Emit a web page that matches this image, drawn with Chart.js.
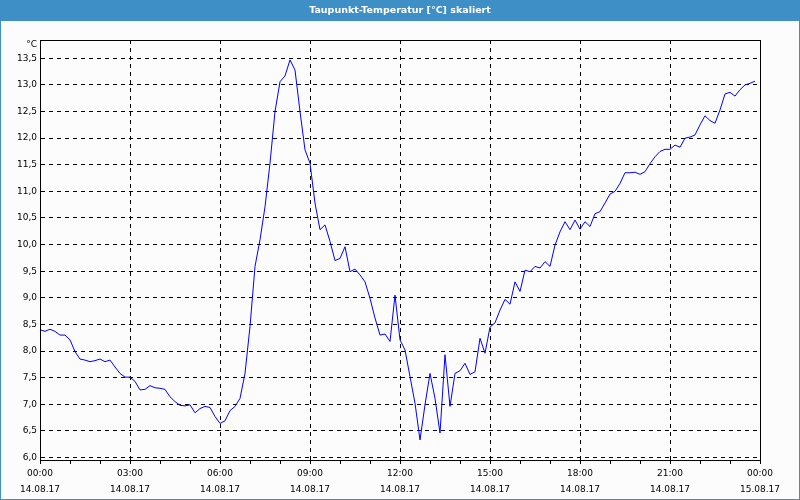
<!DOCTYPE html>
<html><head><meta charset="utf-8">
<script src="https://cdn.jsdelivr.net/npm/chart.js@4/dist/chart.umd.min.js"></script>
<style>html,body{margin:0;padding:0;background:#fff;}canvas{display:block;}</style>
</head><body>
<canvas id="c" width="800" height="500"></canvas>
<script>
const chartTitle = 'Taupunkt-Temperatur [°C] skaliert';
const unitLabel = '°C';
const stepMinutes = 10; // sampling interval of the series (00:00 … 23:50)

const dewPoint = [
  // 00:00 – 07:50
  8.40, 8.37, 8.41, 8.37, 8.30, 8.30, 8.21, 7.99, 7.85, 7.83, 7.80, 7.82,
  7.85, 7.80, 7.83, 7.70, 7.58, 7.51, 7.51, 7.43, 7.27, 7.28, 7.35, 7.31,
  7.30, 7.28, 7.14, 7.05, 6.98, 6.97, 6.99, 6.84, 6.92, 6.96, 6.94, 6.77,
  6.64, 6.69, 6.88, 6.96, 7.11, 7.58, 8.46, 9.59, 10.09, 10.71, 11.53, 12.50,
  // 08:00 – 15:50
  13.06, 13.17, 13.47, 13.28, 12.50, 11.78, 11.53, 10.78, 10.28, 10.37, 10.06, 9.70,
  9.74, 9.96, 9.49, 9.54, 9.43, 9.30, 8.99, 8.62, 8.30, 8.32, 8.18, 9.05,
  8.21, 8.02, 7.52, 7.02, 6.33, 6.99, 7.58, 7.11, 6.46, 7.93, 6.96, 7.58,
  7.63, 7.77, 7.56, 7.61, 8.24, 7.96, 8.45, 8.53, 8.77, 8.97, 8.88, 9.30,
  // 16:00 – 23:50
  9.12, 9.52, 9.49, 9.59, 9.56, 9.68, 9.59, 9.99, 10.24, 10.43, 10.28, 10.46,
  10.29, 10.43, 10.34, 10.58, 10.62, 10.78, 10.95, 11.00, 11.15, 11.35, 11.35, 11.36,
  11.32, 11.37, 11.52, 11.65, 11.75, 11.79, 11.79, 11.87, 11.83, 12.00, 12.02, 12.06,
  12.25, 12.42, 12.33, 12.28, 12.53, 12.83, 12.86, 12.79, 12.91, 13.00, 13.03, 13.07
];

const xTickTimes = ['00:00','03:00','06:00','09:00','12:00','15:00','18:00','21:00','00:00'];
const xTickDates = ['14.08.17','14.08.17','14.08.17','14.08.17','14.08.17','14.08.17','14.08.17','14.08.17','15.08.17'];
const yTicks = [6.0, 6.5, 7.0, 7.5, 8.0, 8.5, 9.0, 9.5, 10.0, 10.5, 11.0, 11.5, 12.0, 12.5, 13.0, 13.5];
const yMin = 5.953, yMax = 13.844;
const xMinMinute = 0, xMaxMinute = 1440, labelEveryMinutes = 180, minorEveryMinutes = 60;

const points = dewPoint.map((v, i) => ({ x: i * stepMinutes, y: v }));

const FONT = '"DejaVu Sans", Tahoma, sans-serif';
const BLUE = '#3d8fc6';

const framePlugin = {
  id: 'frame',
  beforeDraw(chart) {
    const { ctx, width, height } = chart;
    ctx.save();
    ctx.fillStyle = '#fbfcfb';
    ctx.fillRect(0, 0, width, height);
    ctx.fillStyle = BLUE;
    ctx.fillRect(0, 0, width, 21);
    ctx.strokeStyle = BLUE;
    ctx.lineWidth = 1;
    ctx.strokeRect(0.5, 0.5, width - 1, height - 1);
    ctx.fillStyle = '#ffffff';
    ctx.font = 'bold 9.5px ' + FONT;
    ctx.textAlign = 'center';
    ctx.textBaseline = 'middle';
    ctx.fillText(chartTitle, width / 2, 11);
    ctx.restore();
  },
  afterDraw(chart) {
    const { ctx, chartArea: a } = chart;
    ctx.save();
    ctx.strokeStyle = '#000';
    ctx.lineWidth = 1;
    ctx.strokeRect(Math.round(a.left) + 0.5, Math.round(a.top) + 0.5,
                   Math.round(a.right - a.left), Math.round(a.bottom - a.top));
    ctx.fillStyle = '#000';
    ctx.font = '9px ' + FONT;
    ctx.textAlign = 'right';
    ctx.textBaseline = 'middle';
    ctx.fillText(unitLabel, a.left - 3, a.top + 5);
    ctx.restore();
  }
};

new Chart(document.getElementById('c'), {
  type: 'line',
  data: {
    datasets: [{
      data: points,
      borderColor: '#0000ff',
      borderWidth: 1,
      pointRadius: 0,
      tension: 0,
      fill: false
    }]
  },
  options: {
    responsive: false,
    animation: false,
    events: [],
    layout: { padding: { left: 0, right: 40, top: 40, bottom: 0 } },
    plugins: { legend: { display: false }, title: { display: false }, tooltip: { enabled: false } },
    scales: {
      x: {
        type: 'linear',
        min: xMinMinute,
        max: xMaxMinute,
        afterBuildTicks(scale) {
          const t = [];
          for (let m = xMinMinute; m <= xMaxMinute; m += minorEveryMinutes) t.push({ value: m });
          scale.ticks = t;
        },
        afterFit(scale) { scale.height = 40; },
        ticks: {
          autoSkip: false,
          maxRotation: 0,
          padding: 2,
          color: '#000',
          font: { family: FONT, size: 9, lineHeight: 1.75 },
          callback(v) {
            if (v % labelEveryMinutes !== 0) return '';
            const k = v / labelEveryMinutes;
            return [xTickTimes[k], xTickDates[k]];
          }
        },
        grid: {
          color: c => (c.tick && c.tick.value % labelEveryMinutes === 0) ? '#000' : 'rgba(0,0,0,0)',
          lineWidth: 1,
          drawTicks: true,
          tickLength: 4,
          tickColor: '#000',
          tickWidth: 1,
          tickBorderDash: []
        },
        border: { display: true, color: '#000', width: 1, dash: [4, 4] }
      },
      y: {
        type: 'linear',
        min: yMin,
        max: yMax,
        afterBuildTicks(scale) { scale.ticks = yTicks.map(v => ({ value: v })); },
        afterFit(scale) { scale.width = 40; },
        ticks: {
          padding: 3,
          color: '#000',
          font: { family: FONT, size: 9 },
          callback: v => v.toFixed(1).replace('.', ',')
        },
        grid: { color: '#000', lineWidth: 1, drawTicks: false },
        border: { display: true, color: '#000', width: 1, dash: [4, 4] }
      }
    }
  },
  plugins: [framePlugin]
});
</script>
</body></html>
